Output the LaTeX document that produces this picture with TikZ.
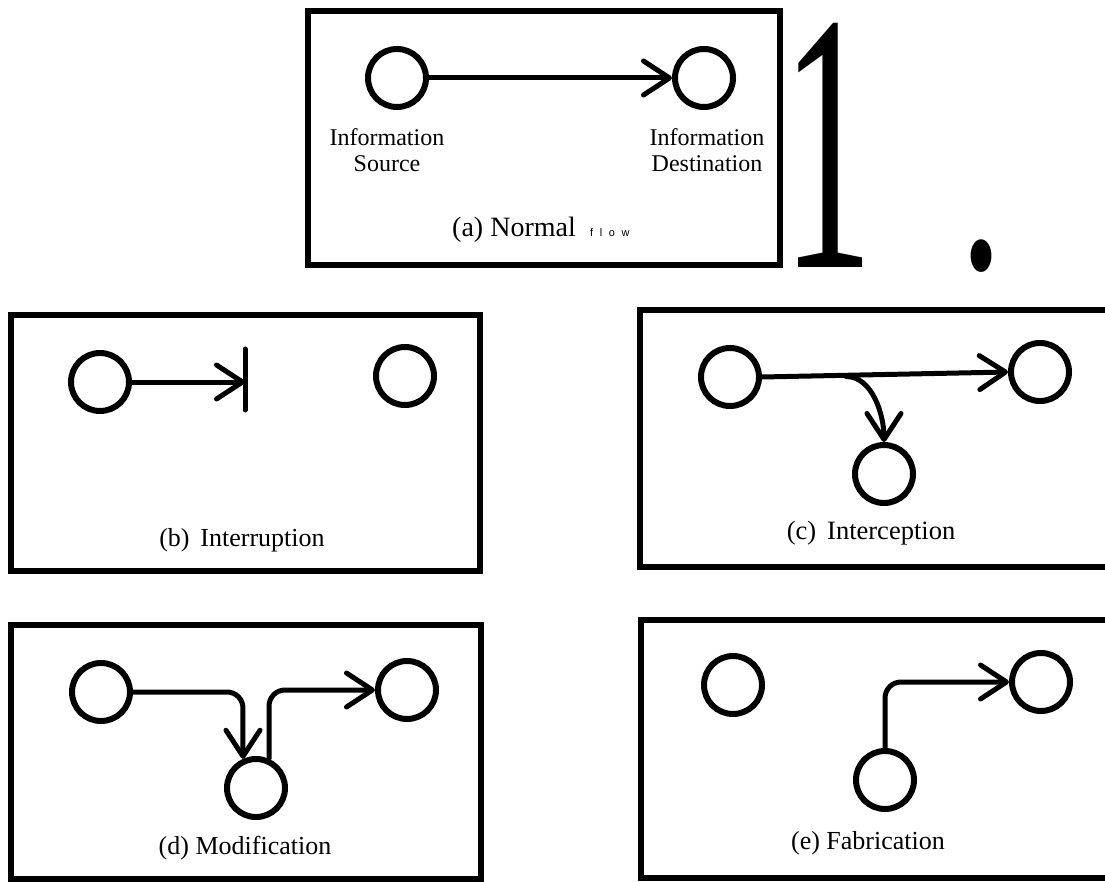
\documentclass[tikz,border=0pt]{standalone}
\usepackage{fontspec}
\setmainfont{Liberation Serif}
\newfontfamily\flowfont[LetterSpace=60]{Liberation Sans}
\usetikzlibrary{arrows.meta}
\tikzset{
  panel/.style={draw, line width=6pt},
  nd/.style={circle, draw, line width=6pt, minimum size=58pt, inner sep=0pt},
  flow/.style={line width=5pt, line cap=round, line join=round,
    -{Straight Barb[length=26pt, width=34pt, round]}},
  plain/.style={line width=5pt, line cap=round},
  lbl/.style={inner sep=0pt, font=\fontsize{24}{26}\selectfont, align=center},
  captxt/.style={inner sep=0pt, font=\fontsize{26}{28}\selectfont}
}
\begin{document}
\begin{tikzpicture}[x=1pt, y=-1pt]
\useasboundingbox (0,0) rectangle (1105,882);
% ---------- (a) normal flow ----------
\draw[panel] (308,11) rectangle (780,265);
\node[nd] (aS) at (397,78) {};
\node[nd] (aD) at (704,78) {};
\draw[flow] (aS.east) -- (aD.west);
\node[lbl] (aSl) at (387,150) {Information\\Source};
\node[lbl] (aDl) at (707,150) {Information\\Destination};
\node[captxt, anchor=base west, font=\fontsize{28}{30}\selectfont] (acap) at (452,237) {(a) Normal};
\node[inner sep=0pt, anchor=base west, font=\flowfont\fontsize{11}{12}\selectfont] (aflow) at (590,237) {flow};
% big "1 ."
\node[inner sep=0pt, anchor=base west] (one) at (782.4,268) {\smash{\scalebox{1.82}[3.7]{\fontsize{100}{100}\selectfont 1}}};
\node[inner sep=0pt, anchor=base west] (dot) at (959.4,268.5) {\scalebox{1.76}[2.76]{\fontsize{100}{100}\selectfont .}};
% ---------- (b) interruption ----------
\draw[panel] (11,315) rectangle (480,571);
\node[nd] (bS) at (100,382) {};
\node[nd] (bD) at (405,376) {};
\coordinate (bStop) at (245,382);
\coordinate (bT) at (245,349);
\coordinate (bB) at (245,410);
\draw[flow] (bS.east) -- (bStop);
\draw[plain] (bT) -- (bB);
\node[captxt] (bcap) at (242,540) {(b)\, Interruption};
% ---------- (c) interception ----------
\draw[panel] (1110,310) -- (640,310) -- (640,567) -- (1110,567);
\node[nd] (cS) at (730,377) {};
\node[nd] (cD) at (1040,372) {};
\node[nd] (cI) at (884,474) {};
\draw[flow] (cS.east) -- (cD.west);
\coordinate (cBr) at (846,376.5);
\draw[flow] (cBr) to[out=0, in=90, looseness=0.9] (cI.north);
\node[captxt, font=\fontsize{26.5}{28}\selectfont] (ccap) at (871,533) {(c)\, Interception};
% ---------- (d) modification ----------
\draw[panel] (11,625) -- (481,625) -- (481,879) -- (11,879) -- cycle;
\node[nd] (dS) at (101,692) {};
\node[nd] (dD) at (407,690) {};
\node[nd] (dM) at (256,788) {};
\draw[flow, rounded corners=16pt] (dS.east) -| (dM.114);
\draw[flow, rounded corners=16pt] (dM.66) |- (dD.west);
\node[captxt] (dcap) at (245,848) {(d) Modification};
% ---------- (e) fabrication ----------
\draw[panel] (1110,620) -- (641,620) -- (641,878) -- (1110,878);
\node[nd] (eS) at (733,685) {};
\node[nd] (eD) at (1041,682) {};
\node[nd] (eF) at (885,780) {};
\draw[flow, rounded corners=16pt] (eF.north) |- (eD.west);
\node[captxt] (ecap) at (868,843) {(e) Fabrication};
\end{tikzpicture}
\end{document}
